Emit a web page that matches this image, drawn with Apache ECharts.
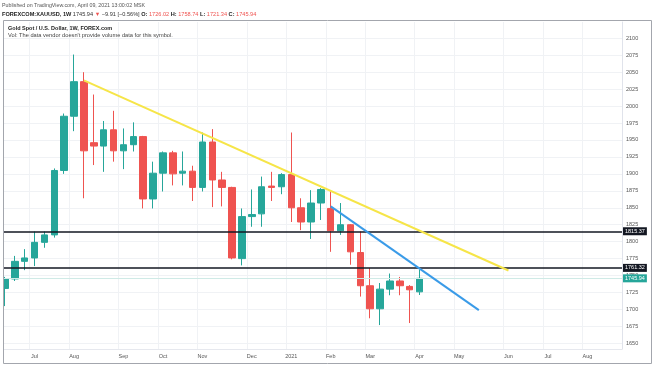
<!DOCTYPE html>
<html>
<head>
<meta charset="utf-8">
<script src="https://cdn.jsdelivr.net/npm/echarts@6/dist/echarts.min.js"></script>
<style>html,body{margin:0;padding:0;background:#fff}#c{width:654px;height:366px}</style>
</head>
<body>
<div id="c"></div>
<script>
// weekly candles (Monday of each week), including empty future weeks
const weeks = [
 '2020-06-15','2020-06-22','2020-06-29','2020-07-06','2020-07-13','2020-07-20','2020-07-27',
 '2020-08-03','2020-08-10','2020-08-17','2020-08-24','2020-08-31','2020-09-07','2020-09-14',
 '2020-09-21','2020-09-28','2020-10-05','2020-10-12','2020-10-19','2020-10-26','2020-11-02',
 '2020-11-09','2020-11-16','2020-11-23','2020-11-30','2020-12-07','2020-12-14','2020-12-21',
 '2020-12-28','2021-01-04','2021-01-11','2021-01-18','2021-01-25','2021-02-01','2021-02-08',
 '2021-02-15','2021-02-22','2021-03-01','2021-03-08','2021-03-15','2021-03-22','2021-03-29',
 '2021-04-05','2021-04-12','2021-04-19','2021-04-26','2021-05-03','2021-05-10','2021-05-17',
 '2021-05-24','2021-05-31','2021-06-07','2021-06-14','2021-06-21','2021-06-28','2021-07-05',
 '2021-07-12','2021-07-19','2021-07-26','2021-08-02','2021-08-09','2021-08-16','2021-08-23'
];
const opens  = [1731,1745,1771,1776,1799,1810,1905,1985,2036,1946,1941,1965,1934,1943,1955,1863,1901,1931,1901,1904,1880,1947,1891,1880,1775,1837,1841,1882,1881,1899,1850,1829,1857,1849,1816,1825,1784,1735,1701,1730,1742,1734,1726.02];
const closes = [1745,1771,1776,1799,1810,1905,1985,2036,1934,1941,1965,1934,1943,1955,1863,1901,1931,1900,1904,1880,1947,1891,1880,1776,1837,1840,1881,1880,1899,1850,1829,1857,1877,1816,1825,1785,1735,1701,1730,1742,1735,1729,1745.94];
const lows   = [1705,1742,1758,1764,1791,1806,1900,1963,1864,1913,1903,1918,1907,1933,1849,1849,1874,1883,1883,1860,1874,1851,1852,1774,1765,1822,1822,1860,1870,1829,1817,1804,1832,1785,1810,1766,1719,1687,1677,1721,1721,1680,1721.34];
const highs  = [1748,1779,1789,1815,1815,1908,1989,2076,2050,2017,1978,1993,1967,1976,1956,1918,1933,1934,1933,1912,1961,1966,1903,1881,1849,1877,1896,1903,1901,1961,1864,1876,1879,1874,1857,1826,1815,1761,1739,1753,1748,1736,1758.74];

const monthWeeks  = ['2020-07-06','2020-08-03','2020-09-07','2020-10-05','2020-11-02','2020-12-07','2021-01-04','2021-02-01','2021-03-01','2021-04-05','2021-05-03','2021-06-07','2021-07-05','2021-08-02'];
const monthLabels = ['Jul','Aug','Sep','Oct','Nov','Dec','2021','Feb','Mar','Apr','May','Jun','Jul','Aug'];
const yTicks = [1650,1675,1700,1725,1750,1775,1800,1825,1850,1875,1900,1925,1950,1975,2000,2025,2050,2075,2100];

const levels = [1815.37, 1761.32];
const lastPrice = 1745.94;
const yellowTrend = [['2020-08-10', 2038], ['2021-06-07', 1757.5]];
const blueTrend = [['2021-02-01', 1852], ['2021-05-17', 1699]];

const candleData = opens.map((o, i) => [o, closes[i], lows[i], highs[i]]);
const monthIdx = new Set(monthWeeks.map(w => weeks.indexOf(w)));
const labelOf = {};
monthWeeks.forEach((w, i) => labelOf[w] = monthLabels[i]);

const FONT = "'Liberation Sans', Arial, sans-serif";
const UP = '#26a69a', DOWN = '#ef5350';

function txt(x, y, text, size, color, bold) {
  return {type: 'text', z: 102, silent: true, x: x, y: y,
    style: {text: text, fill: color, font: (bold ? 'bold ' : '') + size + 'px ' + FONT,
            verticalAlign: 'middle', align: 'left'}};
}

const chart = echarts.init(document.getElementById('c'), null, {renderer: 'canvas'});
chart.setOption({
  animation: false,
  backgroundColor: '#fff',
  textStyle: {fontFamily: FONT},
  grid: {left: 0, right: 32, top: 22, bottom: 17, containLabel: false},
  xAxis: {
    type: 'category', data: weeks, boundaryGap: true,
    axisLine: {show: true, lineStyle: {color: '#e6e8ee', width: 1}},
    axisTick: {show: false},
    axisLabel: {
      interval: (i) => monthIdx.has(i),
      formatter: (v) => labelOf[v] || '',
      fontSize: 5.5, color: '#555', margin: 4, fontFamily: FONT
    },
    splitLine: {show: true, interval: (i) => monthIdx.has(i), lineStyle: {color: '#f0f2f5', width: 1}}
  },
  yAxis: {
    type: 'value', position: 'right', min: 1641.7, max: 2124, scale: true,
    axisLine: {show: true, lineStyle: {color: '#e0e3eb', width: 1}},
    axisTick: {show: false, customValues: yTicks},
    axisLabel: {customValues: yTicks, formatter: (v) => String(v), fontSize: 5.5, color: '#555', margin: 4, fontFamily: FONT},
    splitLine: {show: true, lineStyle: {color: '#f0f2f5', width: 1}}
  },
  series: [
    {
      type: 'candlestick', data: candleData, barWidth: 7,
      itemStyle: {color: UP, color0: DOWN, borderColor: UP, borderColor0: DOWN, borderWidth: 1},
      markLine: {
        silent: true, symbol: ['none', 'none'],
        data: [
          {yAxis: levels[0], lineStyle: {color: '#131722', width: 1.5, type: 'solid'},
           label: {backgroundColor: '#131722', color: '#fff'}},
          {yAxis: levels[1], lineStyle: {color: '#131722', width: 1.5, type: 'solid'},
           label: {backgroundColor: '#131722', color: '#fff'}},
          {yAxis: lastPrice, lineStyle: {color: '#cfeae6', width: 1, type: 'solid'},
           label: {backgroundColor: UP, color: '#fff'}}
        ],
        label: {position: 'end', distance: 1, fontSize: 5.5, padding: [1, 2, 1, 2],
                formatter: (p) => p.value.toFixed(2), fontFamily: FONT}
      }
    },
    {type: 'line', data: yellowTrend, symbol: 'none', lineStyle: {color: '#f6e548', width: 2}, z: 5},
    {type: 'line', data: blueTrend, symbol: 'none', lineStyle: {color: '#3a9be8', width: 2}, z: 5}
  ],
  graphic: [
    {type: 'rect', z: 100, shape: {x: 0, y: 20, width: 3, height: 346}, style: {fill: '#fff'}, silent: true},
    {type: 'rect', z: 101, shape: {x: 3.5, y: 20.5, width: 648, height: 343}, style: {fill: 'none', stroke: '#a3a6ad', lineWidth: 1}, silent: true},
    txt(2, 5.5, 'Published on TradingView.com, April 09, 2021 13:00:02 MSK', 5.3, '#555', false),
    {type: 'text', z: 102, silent: true, x: 2, y: 14,
     style: {
       text: '{b|FOREXCOM:XAUUSD, 1W} {n|1745.94} {a|▼} {n|−9.91 [−0.56%]} {b|O:} {r|1726.02} {b|H:} {r|1758.74} {b|L:} {r|1721.34} {b|C:} {r|1745.94}',
       font: '5.6px ' + FONT, verticalAlign: 'middle', align: 'left', fill: '#333',
       rich: {
         b: {font: 'bold 5.6px ' + FONT, fill: '#222'},
         n: {font: '5.6px ' + FONT, fill: '#333'},
         a: {font: '5.6px ' + FONT, fill: DOWN},
         r: {font: '5.6px ' + FONT, fill: DOWN}
       }
     }},
    txt(8, 28, 'Gold Spot / U.S. Dollar, 1W, FOREX.com', 5.5, '#222', true),
    txt(8, 35, "Vol: The data vendor doesn't provide volume data for this symbol.", 5.7, '#444', false)
  ]
});
</script>
</body>
</html>
